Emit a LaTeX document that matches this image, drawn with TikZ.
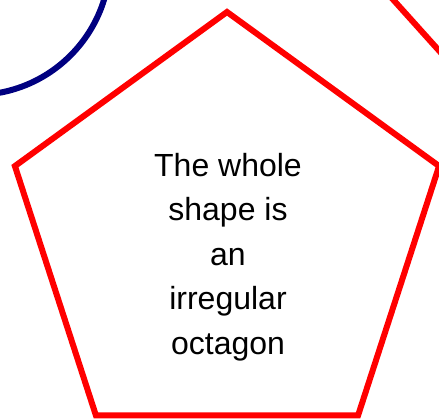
\documentclass[tikz,border=0pt]{standalone}
\usepackage{xcolor}
\usepackage{fontspec}
\setmainfont{Liberation Sans}
\usetikzlibrary{calc}
\definecolor{edge}{HTML}{FF0000}
\definecolor{navy}{HTML}{000080}

\begin{document}
\begin{tikzpicture}[x=1pt,y=-1pt]
      \useasboundingbox (0,0) rectangle (439,419);
      \clip (0,0) rectangle (439,419);
      \draw[navy, line width=6pt] (-25,-40) circle (135);
      \draw[edge, line width=6pt] (380,-15) -- (460,74);
      \coordinate (c) at (227,235);
      \draw[edge, line width=6pt] ($(c)+(-90:223)$) -- ($(c)+(-18:223)$) -- ($(c)+(54:223)$)
        -- ($(c)+(126:223)$) -- ($(c)+(198:223)$) -- cycle;
      \node[align=center, font=\fontsize{32}{44.5}\selectfont] (label) at (228,257)
        {The whole\\shape is\\an\\irregular\\octagon};
    \end{tikzpicture}
\end{document}
